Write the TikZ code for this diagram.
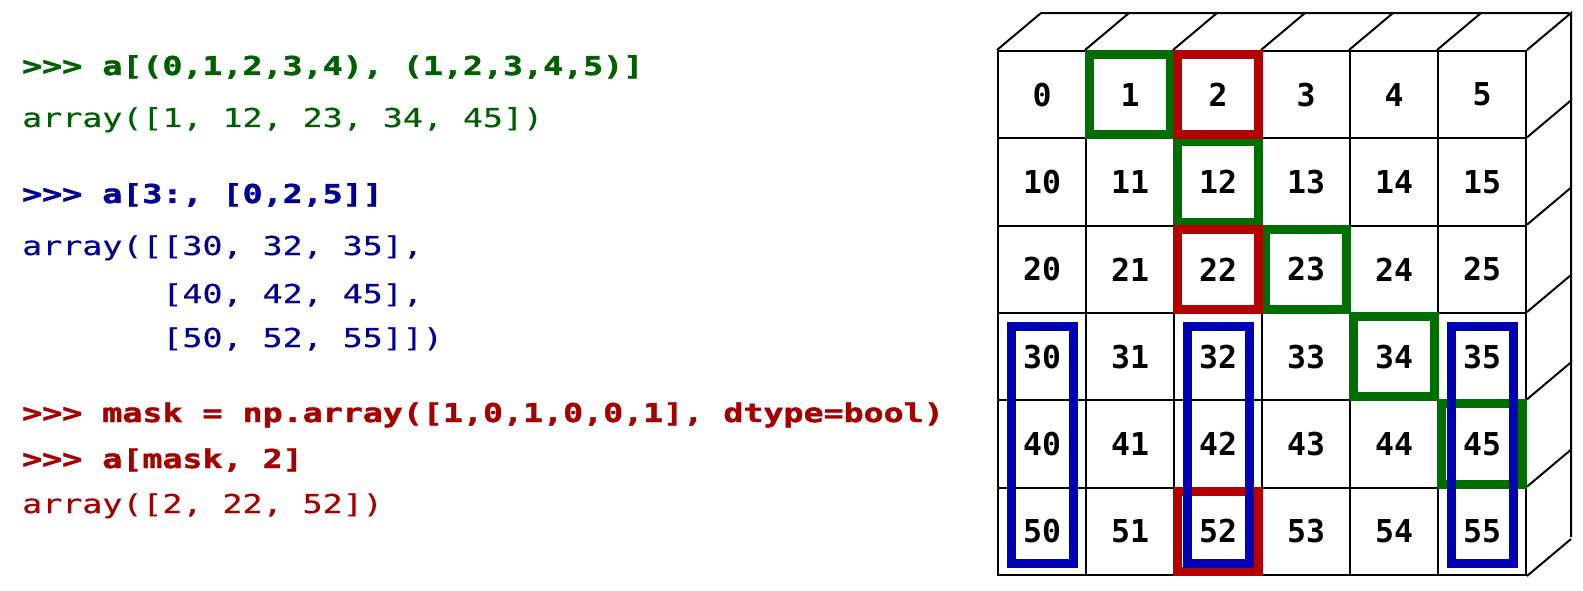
\documentclass[tikz,border=0pt]{standalone}
\usepackage{fontspec}
\newfontfamily\codefont[FakeStretch=1.28, FakeBold=0.5, BoldFeatures={FakeBold=1.6}]{DejaVu Sans Mono}
\newfontfamily\cellfont{DejaVu Sans Mono}
\definecolor{codegreen}{RGB}{0,95,0}
\definecolor{codeblue}{RGB}{0,0,150}
\definecolor{codered}{RGB}{165,0,0}
\definecolor{boxgreen}{RGB}{0,110,0}
\definecolor{boxblue}{RGB}{0,0,180}
\definecolor{boxred}{RGB}{180,0,0}
\begin{document}
\begin{tikzpicture}[x=1pt,y=-1pt,
    cell/.style ={draw, line width=2pt, fill=white, inner sep=0pt,
      minimum width=88pt, minimum height=87.33pt,
      font=\cellfont\bfseries\fontsize{31.5}{32}\selectfont},
    code/.style ={anchor=base west, inner sep=0pt,
      font=\codefont\fontsize{26}{30}\selectfont},
    prompt/.style ={code, font=\codefont\bfseries\fontsize{26}{30}\selectfont},
    pick/.style ={line width=9pt}]
   \useasboundingbox (0,0) rectangle (1583,591);
   % code lines
   \node[prompt, codegreen] (g1) at (22,75)  {>>> a[(0,1,2,3,4), (1,2,3,4,5)]};
   \node[code, codegreen]   (g2) at (22,127) {array([1, 12, 23, 34, 45])};
   \node[prompt, codeblue]  (b1) at (22,203) {>>> a[3:, [0,2,5]]};
   \node[code, codeblue]    (b2) at (22,255) {array([[30, 32, 35],};
   \node[code, codeblue]    (b3) at (22,303) {\hphantom{array([}[40, 42, 45],};
   \node[code, codeblue]    (b4) at (22,347) {\hphantom{array([}[50, 52, 55]])};
   \node[prompt, codered]   (r1) at (22,422) {>>> mask = np.array([1,0,1,0,0,1], dtype=bool)};
   \node[prompt, codered]   (r2) at (22,468) {>>> a[mask, 2]};
   \node[code, codered]     (r3) at (22,513) {array([2, 22, 52])};
   % the array
   \foreach \r in {0,...,5}
     \foreach \c in {0,...,5} {
       \pgfmathtruncatemacro\n{10*\r+\c}
       \node[cell] (c\r\c) at ({1042+88*\c},{94.67+87.33*\r}) {\n};
     }
   \foreach \c in {0,...,5}
     \draw[line width=2pt] (c0\c.north west) -- ++(44,-37) -- ++(88,0);
   \foreach \r in {0,...,5}
     \draw[line width=2pt] (c\r5.north east) -- ++(44,-37) -- ++(0,87.33);
   \draw[line width=2pt] (c55.south east) -- ++(44,-37);
   % selections
   \foreach \a in {01,12,23,34,45}
     \draw[pick, boxgreen] ([shift={(4.5,4.5)}]c\a.north west) rectangle ([shift={(-4.5,-4.5)}]c\a.south east);
   \foreach \a in {02,22,52}
     \draw[pick, boxred] ([shift={(4.5,4.5)}]c\a.north west) rectangle ([shift={(-4.5,-4.5)}]c\a.south east);
   \foreach \c in {0,2,5}
     \draw[pick, boxblue] ([shift={(14.5,14.5)}]c3\c.north west) rectangle ([shift={(-14,-12.5)}]c5\c.south east);
\end{tikzpicture}
\end{document}
